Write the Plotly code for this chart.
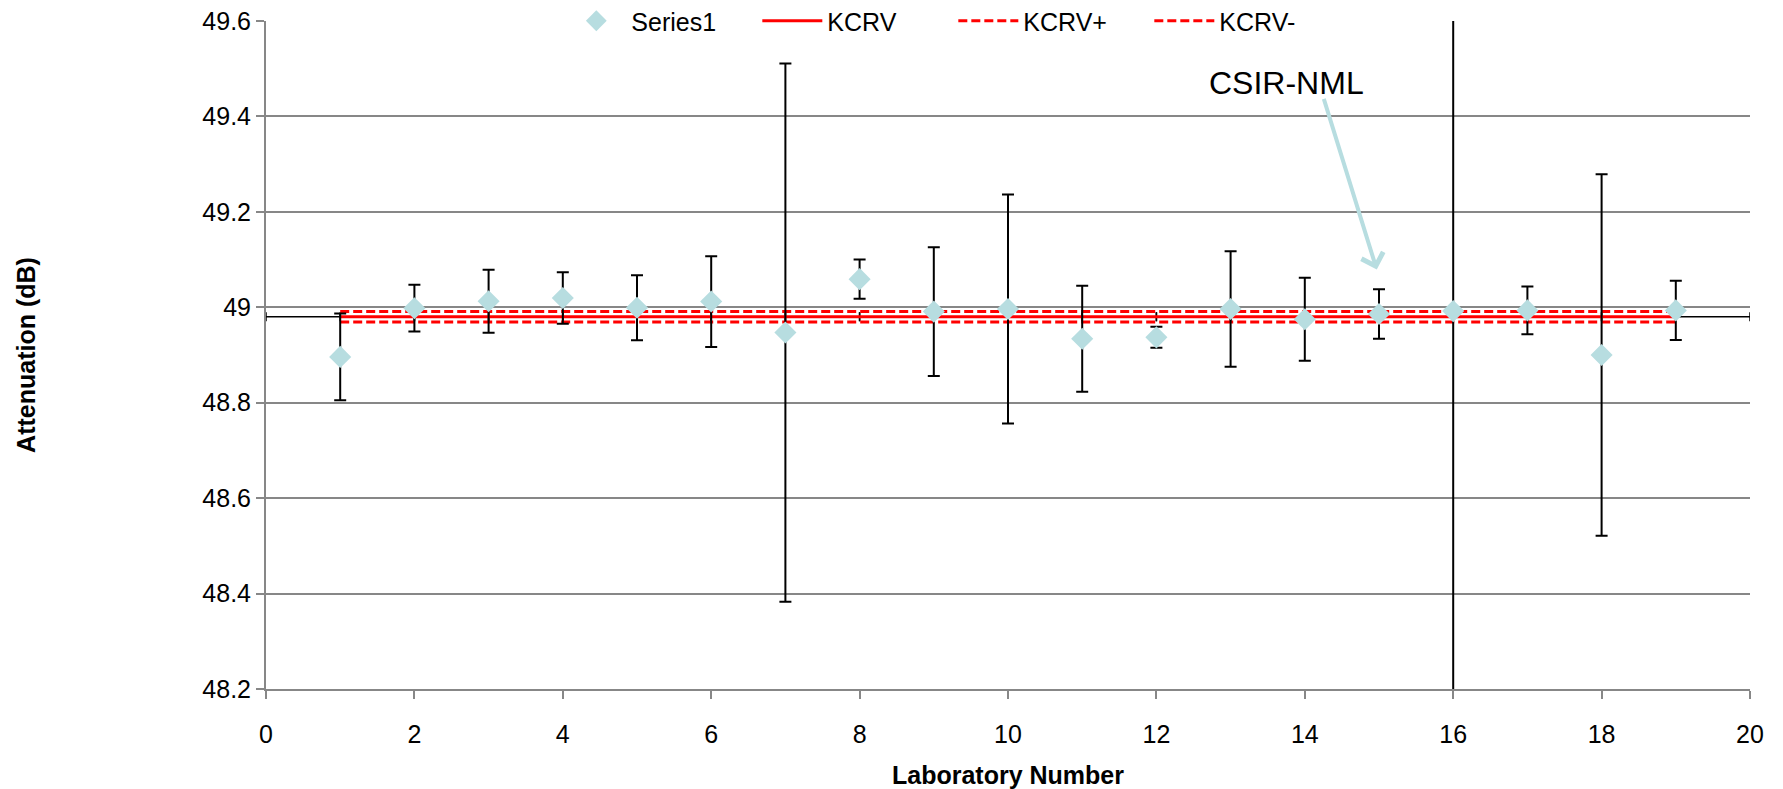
import plotly.graph_objects as go

# ---- data ----
labs = list(range(1, 20))
attenuation = [48.896, 48.998, 49.0125, 49.0195, 48.999, 49.012, 48.947, 49.059, 48.991,
               48.9965, 48.934, 48.937, 48.9965, 48.975, 48.986, 48.992, 48.9935, 48.900, 48.9935]
uncertainty = [0.091, 0.049, 0.066, 0.054, 0.068, 0.095, 0.564, 0.041, 0.135,
               0.240, 0.111, 0.022, 0.121, 0.087, 0.052, 0.900, 0.050, 0.379, 0.062]
kcrv = 48.980
kcrv_plus = 48.991
kcrv_minus = 48.969
kcrv_x_err = 1

y_ticks = [48.2, 48.4, 48.6, 48.8, 49.0, 49.2, 49.4, 49.6]
y_ticktext = ["48.2", "48.4", "48.6", "48.8", "49", "49.2", "49.4", "49.6"]
x_ticks = [0, 2, 4, 6, 8, 10, 12, 14, 16, 18, 20]

annot_text = "CSIR-NML"
annot_text_pos = (13.76, 49.47)
arrow_tail = (14.25, 49.44)
arrow_tip = (14.97, 49.079)

FONT = "Arial, 'Liberation Sans', sans-serif"
MARKER = "#B7DDE0"
GRID = "#878787"

fig = go.Figure()

fig.add_trace(go.Scatter(
    x=labs, y=[kcrv] * len(labs), mode="lines", name="KCRV",
    line=dict(color="#FF0000", width=3),
    error_x=dict(type="constant", value=kcrv_x_err, color="black", thickness=1.5, width=4.5),
    legendrank=2,
))
fig.add_trace(go.Scatter(
    x=labs, y=[kcrv_plus] * len(labs), mode="lines", name="KCRV+",
    line=dict(color="#FF0000", width=3, dash="9px,4px"),
    legendrank=3,
))
fig.add_trace(go.Scatter(
    x=labs, y=[kcrv_minus] * len(labs), mode="lines", name="KCRV-",
    line=dict(color="#FF0000", width=3, dash="9px,4px"),
    legendrank=4,
))
fig.add_trace(go.Scatter(
    x=labs, y=attenuation, mode="markers", name="Series1",
    marker=dict(symbol="diamond", size=17, color=MARKER, line=dict(width=0)),
    error_y=dict(type="data", array=uncertainty, visible=True, color="black",
                 thickness=2, width=6),
    legendrank=1,
))

fig.add_annotation(x=annot_text_pos[0], y=annot_text_pos[1], xref="x", yref="y",
                   text=annot_text, showarrow=False,
                   font=dict(family=FONT, size=32, color="black"))
fig.add_annotation(x=arrow_tip[0], y=arrow_tip[1], xref="x", yref="y",
                   ax=arrow_tail[0], ay=arrow_tail[1], axref="x", ayref="y",
                   text="", showarrow=True, arrowhead=4, arrowsize=1.1,
                   arrowwidth=4, arrowcolor=MARKER)

fig.update_layout(
    width=1775, height=781,
    margin=dict(l=258, r=33, t=13, b=100, autoexpand=False),
    paper_bgcolor="white", plot_bgcolor="white",
    font=dict(family=FONT, size=25, color="black"),
    showlegend=True,
    legend=dict(orientation="h", x=0.199, xanchor="left", y=1.0, yanchor="middle",
                bgcolor="rgba(0,0,0,0)", font=dict(size=25), itemwidth=60,
                entrywidth=121, tracegroupgap=0),
    xaxis=dict(
        range=[0, 20], tickvals=x_ticks, ticks="outside", ticklen=8, tickwidth=2,
        tickcolor=GRID, showgrid=False, zeroline=False,
        showline=True, linecolor=GRID, linewidth=2,
        tickfont=dict(size=25), ticklabelstandoff=14,
        title=dict(text="<b>Laboratory Number</b>", font=dict(size=25), standoff=20),
    ),
    yaxis=dict(
        range=[48.2, 49.6], tickvals=y_ticks, ticktext=y_ticktext, ticks="outside",
        ticklen=8, tickwidth=2, tickcolor=GRID,
        showgrid=True, gridcolor=GRID, gridwidth=2, zeroline=False,
        showline=True, linecolor=GRID, linewidth=2,
        tickfont=dict(size=25), ticklabeloverflow="allow",
        title=dict(text="<b>Attenuation (dB)</b>", font=dict(size=25), standoff=160),
    ),
)

fig.write_html("out.html")
